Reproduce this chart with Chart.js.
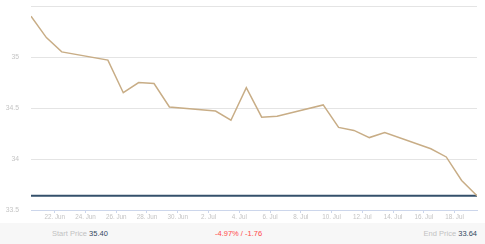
<!DOCTYPE html>
<html>
<head>
<meta charset="utf-8">
<script src="https://cdn.jsdelivr.net/npm/chart.js@4.4.1/dist/chart.umd.min.js"></script>
<style>
  html, body { margin: 0; padding: 0; background: #fff; }
  body { width: 485px; height: 244px; position: relative; overflow: hidden; font-family: "Liberation Sans", Arial, sans-serif; }
  #wrap { position: absolute; left: 0; top: 0; width: 485px; height: 223px; }
  #footer { position: absolute; left: 0; top: 223px; width: 485px; height: 21px; background: #f7f7f7; font-size: 7.5px; line-height: 21px; }
  #footer > span { position: absolute; top: 0; white-space: nowrap; }
  .lbl { color: #c2c2c2; }
  .val { color: #34495e; }
  #start { left: 52px; }
  #change { left: 215px; color: #ff4a4a; }
  #end { right: 8px; }
</style>
</head>
<body>
<div id="wrap"><canvas id="priceChart"></canvas></div>
<div id="footer">
  <span id="start"><span class="lbl">Start Price</span> <span class="val" id="start-val"></span></span>
  <span id="change"></span>
  <span id="end"><span class="lbl">End Price</span> <span class="val" id="end-val"></span></span>
</div>
<script>
// trading days (2018) and closing prices
const dates = [
  "2018-06-20", "2018-06-21", "2018-06-22", "2018-06-25", "2018-06-26", "2018-06-27",
  "2018-06-28", "2018-06-29", "2018-07-02", "2018-07-03", "2018-07-04", "2018-07-05",
  "2018-07-06", "2018-07-09", "2018-07-10", "2018-07-11", "2018-07-12", "2018-07-13",
  "2018-07-16", "2018-07-17", "2018-07-18", "2018-07-19"
];
const prices = [
  35.40, 35.19, 35.05, 34.97, 34.65, 34.75,
  34.74, 34.51, 34.47, 34.38, 34.70, 34.41,
  34.42, 34.53, 34.31, 34.28, 34.21, 34.26,
  34.10, 34.02, 33.79, 33.64
];
const xTickDates = [
  "2018-06-22", "2018-06-24", "2018-06-26", "2018-06-28", "2018-06-30", "2018-07-02",
  "2018-07-04", "2018-07-06", "2018-07-08", "2018-07-10", "2018-07-12", "2018-07-14",
  "2018-07-16", "2018-07-18"
];
const yTicks = [33.5, 34, 34.5, 35, 35.5];
const monthNames = ["Jan", "Feb", "Mar", "Apr", "May", "Jun", "Jul", "Aug", "Sep", "Oct", "Nov", "Dec"];

// quotes are stamped late morning, ticks at midnight
function toTime(s, hour) {
  const [y, m, d] = s.split("-").map(Number);
  return Date.UTC(y, m - 1, d, hour || 0);
}

const points = dates.map((d, i) => ({ x: toTime(d, 11), y: prices[i] }));
const startPrice = prices[0];
const endPrice = prices[prices.length - 1];
const firstX = points[0].x;
const lastX = points[points.length - 1].x;

document.getElementById("start-val").textContent = startPrice.toFixed(2);
document.getElementById("end-val").textContent = endPrice.toFixed(2);
const diff = endPrice - startPrice;
document.getElementById("change").textContent =
  (diff / startPrice * 100).toFixed(2) + "% / " + diff.toFixed(2);

new Chart(document.getElementById("priceChart"), {
  type: "line",
  data: {
    datasets: [
      {
        label: "Price",
        data: points,
        borderColor: "#c8ad86",
        borderWidth: 1.5,
        pointRadius: 0,
        tension: 0,
        fill: false
      },
      {
        label: "End Price",
        data: [{ x: firstX, y: endPrice }, { x: lastX, y: endPrice }],
        borderColor: "#34506b",
        borderWidth: 2,
        pointRadius: 0,
        fill: false
      }
    ]
  },
  options: {
    responsive: true,
    maintainAspectRatio: false,
    animation: false,
    layout: { padding: { top: 6, right: 8, left: 0, bottom: 0 } },
    plugins: { legend: { display: false }, tooltip: { enabled: false } },
    scales: {
      x: {
        type: "linear",
        min: firstX,
        max: lastX,
        afterBuildTicks: (scale) => {
          scale.ticks = xTickDates.map((d) => ({ value: toTime(d) }));
        },
        afterFit: (scale) => {
          scale.height = 13;
          scale.paddingLeft = 0;
          scale.paddingRight = 0;
        },
        ticks: {
          autoSkip: false,
          maxRotation: 0,
          padding: 0,
          color: "#c4c4c4",
          font: { family: "Liberation Sans", size: 6.3 },
          callback: (v) => {
            const d = new Date(v);
            return d.getUTCDate() + ". " + monthNames[d.getUTCMonth()];
          }
        },
        grid: { drawOnChartArea: false, drawTicks: true, tickLength: 3, color: "#ccd6eb" },
        border: { color: "#ccd6eb", width: 1 }
      },
      y: {
        min: 33.5,
        max: 35.5,
        afterBuildTicks: (scale) => {
          scale.ticks = yTicks.map((v) => ({ value: v }));
        },
        afterFit: (scale) => {
          scale.width = 31;
          scale.paddingTop = 0;
          scale.paddingBottom = 0;
        },
        ticks: {
          padding: 12,
          color: "#c4c4c4",
          font: { family: "Liberation Sans", size: 6.8 },
          callback: (v) => (v === 35.5 ? "" : v)
        },
        grid: { color: "#e4e4e4", drawTicks: false },
        border: { display: false }
      }
    }
  }
});
</script>
</body>
</html>
